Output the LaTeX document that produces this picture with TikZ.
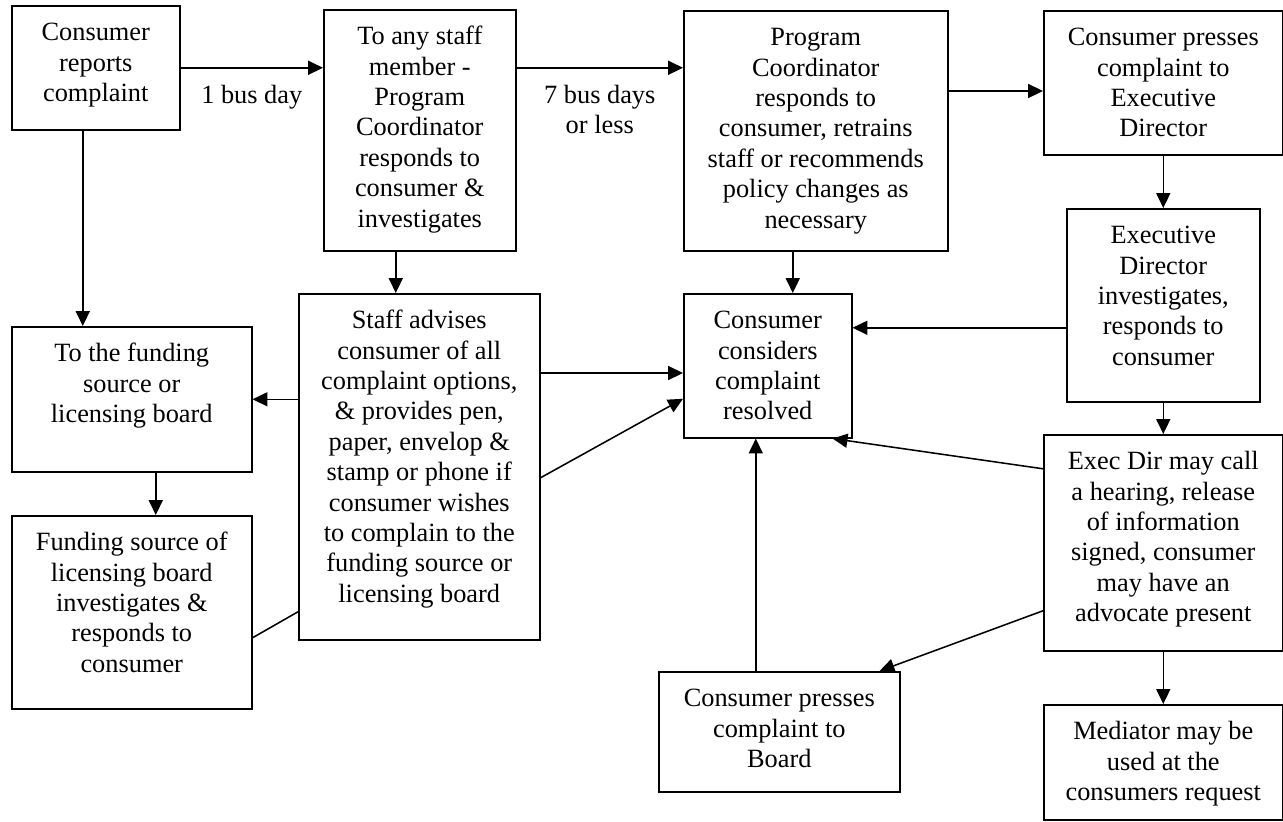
\documentclass[tikz,border=0pt]{standalone}
\usepackage{fontspec}
\setmainfont{Liberation Serif}
\usetikzlibrary{arrows.meta, calc}
\newdimen\px
\px=0.016cm
\newcommand{\firstline}{\rule{0pt}{35\px}}
\newcommand{\boxtext}[3]{\parbox[c][#2\px][t]{#1\px}{\centering\firstline #3}}
\tikzset{%
	stage/.style={draw, line width=0.7pt, inner sep=0pt, anchor=north west},
	connector/.style={line width=0.7pt},
	sel/.style={connector, -{Triangle[length=6.8pt, width=6.4pt]}},
	delay/.style={midway, anchor=north, inner sep=0pt, align=center}
}
\begin{document}
\begin{tikzpicture}[x=0.016cm, y=-0.016cm, font=\fontsize{12}{13.84}\selectfont]
	\useasboundingbox (0,0) rectangle (1283,821);

	\node[stage] (rep)      at (11,5)     {\boxtext{168}{124}{Consumer\\reports\\complaint}};
	\node[stage] (any)      at (323,9)    {\boxtext{192}{241}{To any staff\\member -\\Program\\Coordinator\\responds to\\consumer \&\\investigates}};
	\node[stage] (prog)     at (683,10)   {\boxtext{264}{240}{Program\\Coordinator\\responds to\\consumer, retrains\\staff or recommends\\policy changes as\\necessary}};
	\node[stage] (exec)     at (1043,10)  {\boxtext{239}{144}{Consumer presses\\complaint to\\Executive\\Director}};
	\node[stage] (invest)   at (1066,208) {\boxtext{193}{193}{Executive\\Director\\investigates,\\responds to\\consumer}};
	\node[stage] (resolved) at (683,293)  {\boxtext{168}{144}{Consumer\\considers\\complaint\\resolved}};
	\node[stage] (advise)   at (298,293)  {\boxtext{241}{346}{Staff advises\\consumer of all\\complaint options,\\\& provides pen,\\paper, envelop \&\\stamp or phone if\\consumer wishes\\to complain to the\\funding source or\\licensing board}};
	\node[stage] (source)   at (11,326)   {\boxtext{240}{145}{To the funding\\source or\\licensing board}};
	\node[stage] (funding)  at (11,515)   {\boxtext{240}{193}{Funding source of\\licensing board\\investigates \&\\responds to\\consumer}};
	\node[stage] (hearing)  at (1043,434) {\boxtext{239}{216}{Exec Dir may call\\a hearing, release\\of information\\signed, consumer\\may have an\\advocate present}};
	\node[stage] (board)    at (658,671)  {\boxtext{241}{120}{Consumer presses\\complaint to\\Board}};
	\node[stage] (mediator) at (1043,704) {\boxtext{239}{115}{Mediator may be\\used at the\\consumers request}};

	% top row
	\draw[sel] (rep.east) -- (rep.east -| any.west) node[delay] {\firstline 1 bus day};
	\draw[sel] (rep.east -| any.east) -- (rep.east -| prog.west) node[delay] {\firstline 7 bus days\\or less};
	\coordinate (c2d) at ($(prog.north east)+(0,81)$);
	\draw[sel] (c2d) -- (c2d -| exec.west);

	% right column
	\draw[sel] (exec.south) -- (invest.north);
	\draw[sel] (invest.south) -- (hearing.north);
	\draw[sel] (hearing.south) -- (mediator.north);
	\coordinate (e2f) at ($(invest.west)+(0,22.5)$);
	\draw[sel] (e2f) -- (e2f -| resolved.east);
	\draw[sel] ($(hearing.west)+(0,-74)$) -- ($(resolved.south east)+(-20,0)$);
	\draw[sel] ($(hearing.west)+(0,68)$) -- ($(board.north east)+(-21,0)$);
	\coordinate (b2f) at ($(board.north)+(-23.5,0)$);
	\draw[sel] (b2f) -- (b2f |- resolved.south);

	% middle
	\coordinate (c2f) at ($(prog.south)+(-23,0)$);
	\draw[sel] (c2f) -- (c2f |- resolved.north);
	\coordinate (b2s) at ($(any.south)+(-24,0)$);
	\draw[sel] (b2s) -- (b2s |- advise.north);
	\coordinate (s2f) at ($(advise.north east)+(0,80)$);
	\draw[sel] (s2f) -- (s2f -| resolved.west);
	\draw[sel] ($(advise.east)+(0,11)$) -- ($(resolved.west)+(0,33)$);

	% left column
	\draw[sel] (advise.west |- source.east) -- (source.east);
	\coordinate (r2s) at ($(rep.south)+(-13,0)$);
	\draw[sel] (r2s) -- (r2s |- source.north);
	\coordinate (s2u) at ($(source.south)+(24,0)$);
	\draw[sel] (s2u) -- (s2u |- funding.north);
	\draw[connector] ($(funding.east)+(0,25.5)$) -- ($(advise.west)+(0,145)$);
\end{tikzpicture}
\end{document}
